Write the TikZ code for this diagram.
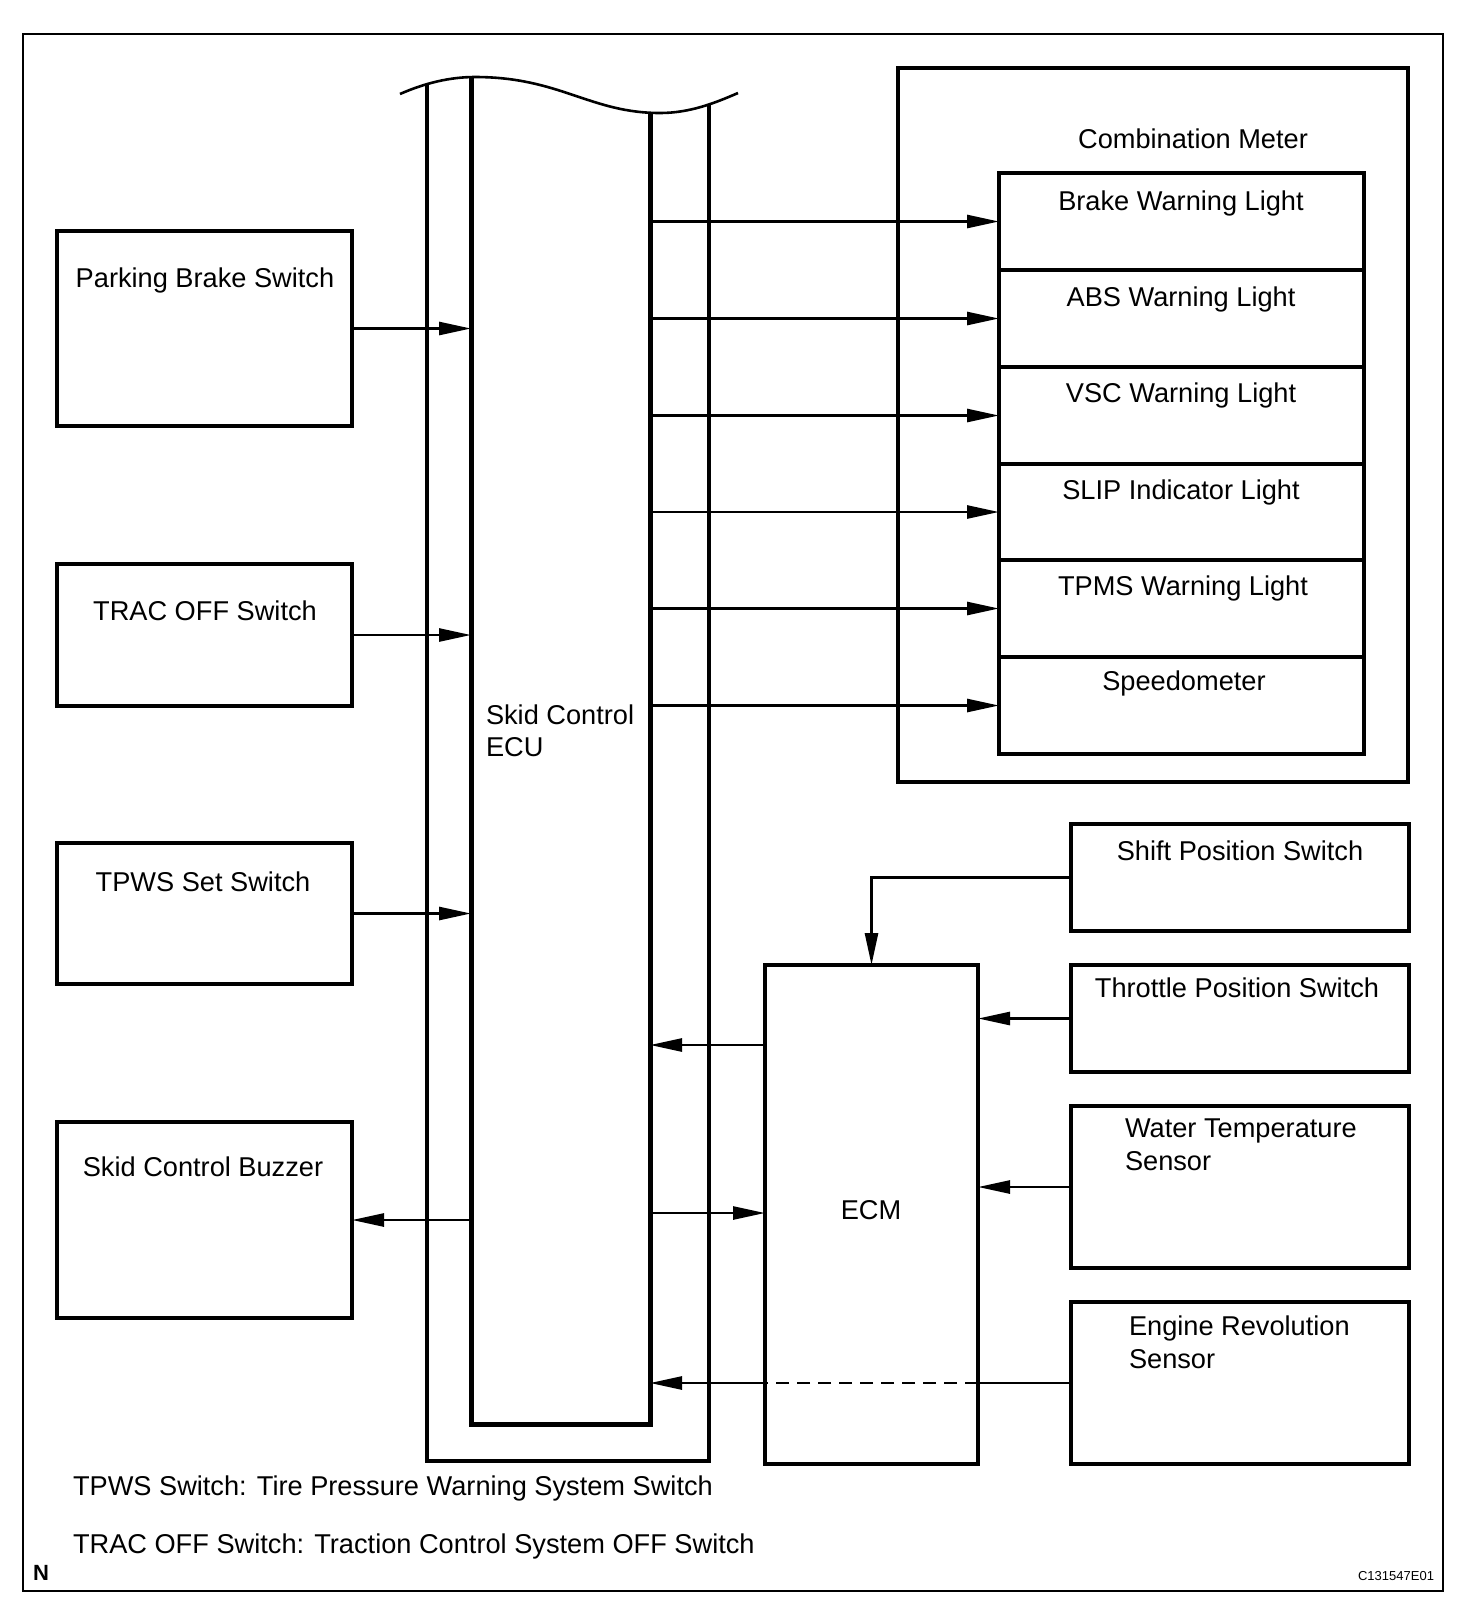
\documentclass[tikz,border=0pt]{standalone}
\usepackage{fontspec}
\setmainfont{Liberation Sans}
\usetikzlibrary{arrows.meta,fit,calc}
\begin{document}
\begin{tikzpicture}[x=0.5pt,y=-0.5pt,
  every node/.style={inner sep=0pt, outer sep=0pt},
  box/.style={draw, line width=2pt},
  lbl/.style={font=\fontsize{13.6}{16}\selectfont, anchor=base},
  wire/.style={line width=1.35pt},
  arr/.style={wire, -{Triangle[length=16pt,width=6.5pt]}}]
\useasboundingbox (0,0) rectangle (1472,1624);
% outer frame
\draw[line width=1pt] (23,34) rectangle (1443,1591);

% left boxes
\node[box, fit={(57,231) (352,426)}] (pbs) {};
\node[lbl] at (205,287) {Parking Brake Switch};
\node[box, fit={(57,564) (352,706)}] (trac) {};
\node[lbl] at (205,620) {TRAC OFF Switch};
\node[box, fit={(57,843) (352,984)}] (tpws) {};
\node[lbl] at (203,891) {TPWS Set Switch};
\node[box, fit={(57,1122) (352,1318)}] (buz) {};
\node[lbl] at (203,1176) {Skid Control Buzzer};

% Skid Control ECU (open top, wavy break)
\draw[line width=1.6pt] (427,84) -- (427,1461) -- (709,1461) -- (709,104);
\draw[line width=2.5pt] (471,77) -- (471,1424) -- (650,1424) -- (650,112.7);
\draw[line width=1.3pt] (400,94) .. controls (425,83) and (450,77) .. (475,77)
  .. controls (560,77) and (590,113) .. (660,113)
  .. controls (690,113) and (715,103) .. (738,93);
\coordinate (ecuIL) at (471,700);
\coordinate (ecuIR) at (650,700);
\node[lbl, anchor=base west] at (486,724) {Skid Control};
\node[lbl, anchor=base west] at (486,756) {ECU};

% Combination meter
\node[box, fit={(898,68) (1408,782)}, line width=2.2pt] (cm) {};
\node[lbl] at (1193,148) {Combination Meter};
\node[box, fit={(999,173) (1364,270)}] (bwl) {};
\node[lbl] at (1181,210) {Brake Warning Light};
\node[box, fit={(999,270) (1364,367)}] (abs) {};
\node[lbl] at (1181,306) {ABS Warning Light};
\node[box, fit={(999,367) (1364,464)}] (vsc) {};
\node[lbl] at (1181,402) {VSC Warning Light};
\node[box, fit={(999,464) (1364,560)}] (slip) {};
\node[lbl] at (1181,499) {SLIP Indicator Light};
\node[box, fit={(999,560) (1364,657)}] (tpms) {};
\node[lbl] at (1183,595) {TPMS Warning Light};
\node[box, fit={(999,657) (1364,754)}] (spd) {};
\node[lbl] at (1184,690) {Speedometer};

% ECM and sensors
\node[box, fit={(765,965) (978,1464)}] (ecm) {};
\node[lbl] at (871,1219) {ECM};
\node[box, fit={(1071,824) (1409,931)}] (ssw) {};
\node[lbl] at (1240,860) {Shift Position Switch};
\node[box, fit={(1071,965) (1409,1072)}] (tps) {};
\node[lbl] at (1237,997) {Throttle Position Switch};
\node[box, fit={(1071,1106) (1409,1268)}] (wts) {};
\node[lbl, anchor=base west] at (1125,1137) {Water Temperature};
\node[lbl, anchor=base west] at (1125,1170) {Sensor};
\node[box, fit={(1071,1302) (1409,1464)}] (ers) {};
\node[lbl, anchor=base west] at (1129,1335) {Engine Revolution};
\node[lbl, anchor=base west] at (1129,1368) {Sensor};

% connectors: inputs to ECU
\draw[arr] (pbs.east) -- (pbs.east -| ecuIL);
\draw[arr] (trac.east) -- (trac.east -| ecuIL);
\draw[arr] (tpws.east) -- (tpws.east -| ecuIL);
\draw[arr] (buz.east -| ecuIL) -- (buz.east);

% ECU to combination meter
\draw[arr] (ecuIR |- bwl.west) -- (bwl.west);
\draw[arr] (ecuIR |- abs.west) -- (abs.west);
\draw[arr] (ecuIR |- vsc.west) -- (vsc.west);
\draw[arr] (ecuIR |- slip.west) -- (slip.west);
\draw[arr] (ecuIR |- tpms.west) -- (tpms.west);
\draw[arr] (ecuIR |- spd.west) -- (spd.west);

% ECM connections
\coordinate (yA) at (0,1045);
\coordinate (yB) at (0,1213);
\draw[arr] (ssw.west) -| (ecm.north);
\draw[arr] (tps.west) -- (tps.west -| ecm.east);
\draw[arr] (wts.west) -- (wts.west -| ecm.east);
\draw[arr] (ecm.west |- yA) -- (ecuIR |- yA);
\draw[arr] (ecuIR |- yB) -- (ecm.west |- yB);
\draw[wire] (ers.west) -- (ers.west -| ecm.east);
\draw[wire, dash pattern=on 6.5pt off 4pt] (ers.west -| ecm.east) -- (ers.west -| ecm.west);
\draw[arr] (ers.west -| ecm.west) -- (ers.west -| ecuIR);

% notes
\node[lbl, anchor=base west] at (73,1495) {TPWS Switch: Tire Pressure Warning System Switch};
\node[lbl, anchor=base west] at (73,1553) {TRAC OFF Switch: Traction Control System OFF Switch};
\node[font=\bfseries\fontsize{11}{12}\selectfont, anchor=base west] at (33,1580) {N};
\node[font=\fontsize{6.5}{8}\selectfont, anchor=base east] at (1434,1580) {C131547E01};
\end{tikzpicture}
\end{document}
